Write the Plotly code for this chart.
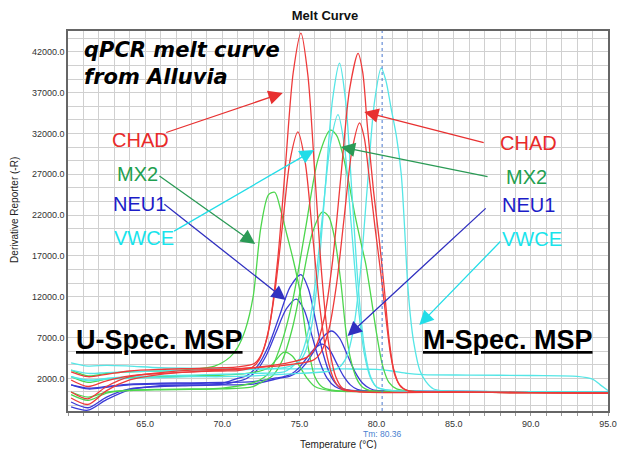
import plotly.graph_objects as go

# ---------------- data ----------------
# CHAD (red)
chad_u1_x = [60.2, 61.3, 62.5, 64, 66, 68, 70, 71, 72.1, 72.6, 73.1, 73.6, 74.1, 74.6, 75.1, 75.55, 76.0, 76.45, 76.9, 77.35, 77.8, 79, 85, 90, 95]
chad_u1_y = [2800, 2200, 2500, 2900, 3100, 3200, 3300, 3400, 3850, 5200, 8900, 16700, 28200, 39500, 44300, 39100, 27000, 14600, 6250, 2230, 790, 350, 300, 250, 200]
chad_u2_x = [60.2, 61.3, 62.5, 64, 66, 68, 70, 71.0, 71.9, 72.4, 72.9, 73.4, 73.9, 74.4, 74.9, 75.375, 75.85, 76.325, 76.8, 77.275, 77.75, 79, 85, 90, 95]
chad_u2_y = [1800, 1000, 1700, 2300, 2600, 2800, 2900, 2950, 3300, 4300, 6950, 12500, 20700, 28800, 32200, 28450, 19650, 10660, 4600, 1700, 650, 350, 300, 250, 200]
chad_m1_x = [60.2, 61.3, 62.5, 64, 66, 68, 70, 72, 74, 75.5, 76.05, 76.6, 77.15, 77.7, 78.25, 78.8, 79.1, 79.4, 79.8, 80.2, 80.5, 80.8, 81.1, 81.5, 82, 83, 85, 90, 95]
chad_m1_y = [-400, -1200, 500, 1800, 2500, 2800, 3000, 3300, 3800, 4600, 5850, 9300, 16400, 27000, 37400, 41800, 39500, 33000, 25000, 18500, 13000, 7000, 3200, 1200, 500, 350, 300, 250, 200]
chad_m2_x = [60.2, 61.3, 62.5, 64, 66, 68, 70, 72, 74, 75.9, 76.4, 76.9, 77.4, 77.9, 78.4, 78.9, 79.2, 79.5, 79.9, 80.3, 80.6, 80.9, 81.2, 81.6, 82.1, 83, 85, 90, 95]
chad_m2_y = [330, -500, 1000, 2200, 2700, 3000, 3100, 3300, 3600, 4230, 5200, 7900, 13450, 21700, 29850, 33300, 31500, 27000, 20500, 14500, 9500, 5000, 2300, 900, 450, 330, 300, 250, 200]

# MX2 (green)
mx2_u1_x = [60.2, 61.3, 62.5, 64, 66, 68, 69.5, 70.5, 71, 71.5, 72, 72.5, 73, 73.4, 73.8, 74.2, 74.6, 75, 75.5, 76, 76.5, 77, 78, 80, 85, 90, 95]
mx2_u1_y = [3000, 2300, 2600, 2800, 2900, 3100, 3500, 4600, 5800, 8000, 12000, 20500, 24500, 24800, 22500, 19500, 16500, 13000, 6500, 2200, 900, 600, 450, 400, 350, 300, 250]
mx2_u2_x = [60.2, 61.3, 62.5, 64, 66, 68, 70, 72, 73, 73.5, 74, 74.5, 75, 75.5, 76, 77, 80, 85, 90, 95]
mx2_u2_y = [2200, 1500, 1900, 2100, 2200, 2300, 2400, 2700, 3300, 4300, 5200, 4800, 3500, 2000, 1000, 500, 350, 300, 250, 200]
mx2_m1_x = [60.2, 61.3, 62.5, 64, 66, 68, 70, 72.2, 73.0, 73.8, 74.6, 75.4, 76.2, 77.0, 77.4, 77.8, 78.2, 78.6, 79.0, 79.3, 79.6, 80.0, 80.4, 80.8, 81.3, 82, 85, 90, 95]
mx2_m1_y = [330, -300, 300, 550, 650, 700, 800, 1600, 2600, 6100, 11900, 20400, 28800, 32400, 31800, 29500, 26000, 22000, 18500, 16000, 12500, 7500, 3500, 1500, 700, 450, 350, 300, 250]
mx2_m2_x = [60.2, 61.3, 62.5, 64, 66, 68, 70, 72, 72.6, 73.25, 73.9, 74.55, 75.2, 75.85, 76.5, 76.9, 77.3, 77.7, 78.0, 78.3, 78.7, 79.1, 79.6, 81, 85, 90, 95]
mx2_m2_y = [0, -700, 200, 500, 600, 650, 700, 1000, 1600, 2300, 4250, 8200, 14100, 19900, 22400, 21800, 19000, 13500, 8000, 4500, 2000, 900, 500, 400, 350, 300, 250]

# NEU1 (blue)
neu1_u1_x = [60.2, 61.3, 62.5, 64, 66, 68, 70, 70.9, 71.6, 72.3, 73.0, 73.7, 74.4, 75.1, 75.575, 76.05, 76.525, 77.0, 77.475, 77.95, 79, 85, 90, 95]
neu1_u1_y = [1200, 700, 900, 1200, 1300, 1350, 1400, 1950, 2350, 3550, 6000, 9600, 13200, 14700, 13000, 9100, 5100, 2400, 1100, 660, 450, 400, 350, 300]
neu1_u2_x = [60.2, 61.3, 62.5, 64, 66, 68, 70, 70.9, 71.55, 72.2, 72.85, 73.5, 74.15, 74.8, 75.3, 75.8, 76.3, 76.8, 77.3, 77.8, 79, 85, 90, 95]
neu1_u2_y = [-1500, -1900, -600, 600, 1100, 1200, 1250, 1600, 1950, 2900, 4800, 7700, 10500, 11700, 10400, 7300, 4100, 2000, 1000, 620, 450, 400, 350, 300]
neu1_m1_x = [60.2, 61.3, 62.5, 64, 66, 68, 70, 72, 73.8, 74.35, 74.9, 75.45, 76.0, 76.55, 77.1, 77.6, 78.1, 78.6, 79.1, 79.6, 80.1, 82, 85, 90, 95]
neu1_m1_y = [-900, -1600, -300, 700, 1000, 1100, 1200, 1300, 2060, 2250, 2800, 3900, 5500, 7100, 7800, 6930, 4900, 2800, 1400, 725, 480, 400, 350, 300, 250]
neu1_m2_x = [60.2, 61.3, 62.5, 64, 66, 68, 70, 72, 73.5, 74.0, 74.5, 75.0, 75.5, 76.0, 76.5, 76.95, 77.4, 77.85, 78.3, 78.75, 79.2, 81, 85, 90, 95]
neu1_m2_y = [1200, 800, 1000, 1300, 1400, 1450, 1500, 1600, 2050, 2200, 2570, 3350, 4550, 5700, 6200, 5500, 3900, 2300, 1200, 650, 460, 400, 350, 300, 250]

# VWCE (cyan)
vwce_u1_x = [60.2, 61.3, 62.5, 64, 66, 68, 70, 72, 74, 74.9, 75.35, 75.8, 76.25, 76.7, 77.15, 77.6, 78.0, 78.4, 78.8, 79.2, 79.6, 80.0, 81, 85, 90, 95]
vwce_u1_y = [3000, 2600, 2700, 2800, 2900, 3000, 3000, 3100, 3300, 3900, 5100, 8500, 15550, 26000, 36200, 40600, 35900, 24800, 13500, 5930, 2260, 945, 500, 400, 350, 300]
vwce_u2_x = [60.2, 61.3, 62.5, 64, 66, 68, 70, 72, 74, 74.5, 75.0, 75.5, 76.0, 76.5, 77.0, 77.5, 77.925, 78.35, 78.775, 79.2, 79.625, 80.05, 81, 85, 90, 95]
vwce_u2_y = [2200, 1800, 2000, 2200, 2300, 2400, 2500, 2600, 2800, 3350, 4400, 7200, 13200, 22000, 30600, 34300, 30300, 21000, 11500, 5070, 1980, 875, 500, 400, 350, 300]
vwce_m1_x = [60.2, 61.3, 62.5, 64, 66, 68, 70, 72, 75, 77, 77.6, 78.05, 78.5, 78.95, 79.4, 79.85, 80.3, 80.6, 80.95, 81.3, 81.6, 81.8, 82.0, 82.2, 82.4, 82.8, 83.2, 83.7, 84.5, 87, 90, 95]
vwce_m1_y = [2200, 1700, 1900, 2000, 2100, 2200, 2200, 2300, 2600, 2900, 3400, 4600, 8000, 15000, 25440, 35650, 40000, 38500, 35000, 31500, 27000, 21000, 14000, 9500, 6500, 3000, 1600, 700, 450, 400, 350, 300]
vwce_m2_x = [60.2, 61.3, 62.5, 64, 66, 70, 74, 78, 80, 81, 82, 83, 86, 90, 93, 94, 94.5, 95]
vwce_m2_y = [3900, 3500, 3600, 3500, 3300, 3200, 3150, 3150, 3100, 2900, 2600, 2450, 2400, 2350, 2250, 1900, 1200, 500]

tm_value = 80.36
x_range = [60, 95]
y_range = [-2000, 44550]
x_tickvals = [65, 70, 75, 80, 85, 90, 95]
y_tickvals = [2000, 7000, 12000, 17000, 22000, 27000, 32000, 37000, 42000]

# ---------------- figure ----------------
RED, GREEN, BLUE, CYAN = "#ee3a3a", "#4cd64c", "#3b3bd6", "#55e6e6"
series = [
    (vwce_m2_x, vwce_m2_y, CYAN),
    (neu1_u2_x, neu1_u2_y, BLUE), (neu1_m1_x, neu1_m1_y, BLUE),
    (neu1_u1_x, neu1_u1_y, BLUE), (neu1_m2_x, neu1_m2_y, BLUE),
    (mx2_u1_x, mx2_u1_y, GREEN), (mx2_u2_x, mx2_u2_y, GREEN),
    (mx2_m1_x, mx2_m1_y, GREEN), (mx2_m2_x, mx2_m2_y, GREEN),
    (vwce_u1_x, vwce_u1_y, CYAN), (vwce_u2_x, vwce_u2_y, CYAN),
    (vwce_m1_x, vwce_m1_y, CYAN),
    (chad_u1_x, chad_u1_y, RED), (chad_u2_x, chad_u2_y, RED),
    (chad_m1_x, chad_m1_y, RED), (chad_m2_x, chad_m2_y, RED),
]

fig = go.Figure()
for xs, ys, col in series:
    fig.add_trace(go.Scatter(x=xs, y=ys, mode="lines",
                             line=dict(color=col, width=1.3, shape="spline", smoothing=0.8),
                             hoverinfo="skip", showlegend=False))

fig.add_shape(type="line", xref="x", yref="paper", x0=tm_value, x1=tm_value, y0=0, y1=1,
              line=dict(color="#4a78d0", width=1, dash="dot"))

GRID = "#d0d0d0"
TICKF = dict(family="Liberation Sans, Arial", size=9, color="#333333")
fig.update_layout(
    width=624, height=449,
    margin=dict(l=68, r=7, t=31, b=38),
    paper_bgcolor="white", plot_bgcolor="white",
    showlegend=False,
    title=dict(text="<b>Melt Curve</b>", x=325/624, xanchor="center", xref="container",
               y=1-15/449, yanchor="middle", yref="container",
               font=dict(family="Liberation Sans, Arial", size=13, color="#111111")),
    xaxis=dict(range=x_range, tickmode="array", tickvals=x_tickvals, tickformat=".1f",
               showgrid=True, gridcolor=GRID, gridwidth=1,
               minor=dict(tick0=60, dtick=1, showgrid=True, gridcolor=GRID, ticks="outside", ticklen=3, tickcolor="#999999"),
               ticks="outside", ticklen=3, tickcolor="#999999",
               showline=True, linecolor="#666666", linewidth=1.5, mirror=True,
               zeroline=False, tickfont=TICKF),
    yaxis=dict(range=y_range, tickmode="array", tickvals=y_tickvals, tickformat=".1f",
               showgrid=True, gridcolor=GRID, gridwidth=1,
               minor=dict(tick0=2000, dtick=5000/3, showgrid=True, gridcolor=GRID),
               ticks="", showline=True, linecolor="#666666", linewidth=1.5, mirror=True,
               zeroline=False, tickfont=TICKF),
)

ann = []
# axis titles and Tm label
ann.append(dict(text="Derivative Reporter (-R)", xref="paper", yref="paper", x=(13-68)/549, y=(411-210)/380,
                xanchor="center", yanchor="middle",
                textangle=-90, showarrow=False, font=dict(family="Liberation Sans, Arial", size=10, color="#222")))
ann.append(dict(text="Temperature (°C)", xref="paper", yref="paper", x=(343-68)/549, y=(411-444.5)/380,
                xanchor="center", yanchor="middle",
                showarrow=False, font=dict(family="Liberation Sans, Arial", size=10, color="#222")))
ann.append(dict(text="Tm: 80.36", xref="paper", yref="paper", x=(388-68)/549, y=(411-434)/380,
                xanchor="center", yanchor="middle",
                showarrow=False, font=dict(family="Liberation Sans, Arial", size=8.5, color="#4a7fd0")))

# big texts
ann.append(dict(text="<b><i>qPCR melt curve<br>from Alluvia</i></b>", xref="x", yref="y", x=60.92, y=40630,
                xanchor="left", yanchor="middle", align="left", showarrow=False,
                font=dict(family="DejaVu Sans", size=21, color="black")))
ann.append(dict(text="<b><u>U-Spec. MSP</u></b>", xref="x", yref="y", x=65.9, y=6700,
                xanchor="center", yanchor="middle",
                showarrow=False, font=dict(family="Liberation Sans, Arial", size=27, color="black")))
ann.append(dict(text="<b><u>M-Spec. MSP</u></b>", xref="x", yref="y", x=88.5, y=6700,
                xanchor="center", yanchor="middle",
                showarrow=False, font=dict(family="Liberation Sans, Arial", size=27, color="black")))

labels = [
    ("CHAD", "#e82a2a", 64.69, 31200), ("MX2", "#1fa050", 64.49, 27030),
    ("NEU1", "#1c1cc8", 64.62, 23360), ("VWCE", "#18e4ec", 64.94, 19190),
    ("CHAD", "#e82a2a", 89.84, 30830), ("MX2", "#1fa050", 89.71, 26665),
    ("NEU1", "#1c1cc8", 89.84, 23235), ("VWCE", "#18e4ec", 90.10, 19070),
]
for t, c, x, y in labels:
    ann.append(dict(text=t, xref="x", yref="y", x=x, y=y, showarrow=False,
                    xanchor="center", yanchor="middle",
                    font=dict(family="Liberation Sans, Arial", size=20, color=c)))

arrows = [
    ("#e83030", 66.27, 32055, 73.92, 36955),
    ("#e83030", 87.04, 30830, 79.20, 34630),
    ("#2a9a55", 65.83, 26910, 72.13, 18460),
    ("#2a9a55", 87.29, 26665, 77.68, 30340),
    ("#3030c0", 66.15, 23480, 74.11, 11600),
    ("#3030c0", 87.17, 22990, 78.12, 7190),
    ("#22dde8", 66.78, 19930, 75.95, 29970),
    ("#22dde8", 88.12, 18950, 82.77, 8535),
]
for c, x0, y0, x1, y1 in arrows:
    ann.append(dict(text="", xref="x", yref="y", x=x1, y=y1, axref="x", ayref="y", ax=x0, ay=y0,
                    showarrow=True, arrowhead=2, arrowsize=2.2, arrowwidth=1.3, arrowcolor=c, standoff=0))

fig.update_layout(annotations=ann)

fig.write_html("out.html", config={"displayModeBar": False},
               post_script="document.body.style.margin='0px';")
